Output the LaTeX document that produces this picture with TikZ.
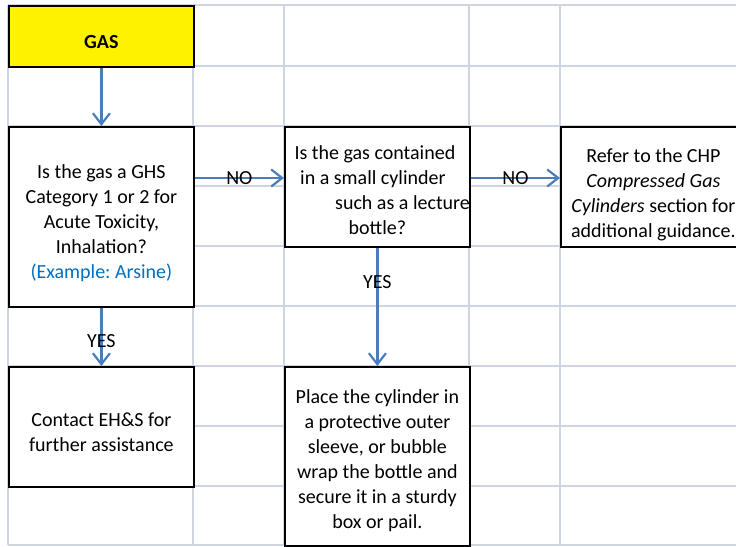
\documentclass[tikz,border=0pt]{standalone}
\usepackage{fontspec}
\setmainfont{Carlito}
\frenchspacing
\usetikzlibrary{arrows.meta}
\definecolor{gridc}{HTML}{CDD5E3}
\definecolor{arrc}{HTML}{4A7EBB}
\definecolor{exblue}{HTML}{0070C0}
% #1 = extra space above the text (twice the downward shift)
\newcommand{\boxtext}[2]{\parbox{185pt}{\frenchspacing\vspace*{#1pt}\centering #2}}
\tikzset{
  box/.style={draw=black, line width=1.8pt, fill=white, rectangle, anchor=north west,
    align=center, inner xsep=0pt, inner ysep=0pt, minimum width=185pt,
    font=\fontsize{20}{25}\selectfont},
  arr/.style={draw=arrc, line width=2.4pt, -{Straight Barb[length=11pt,width=17pt,line width=2.2pt]}},
  lbl/.style={font=\fontsize{20}{25}\selectfont, inner sep=0pt, text=black}
}
\begin{document}
\begin{tikzpicture}[x=1pt,y=-1pt]
\clip (0,0) rectangle (736,546);
\fill[white] (0,0) rectangle (736,546);
% grid
\foreach \yy in {5,66,126,186,246,306,366,426,486,545}
  \draw[gridc, line width=1.5pt] (8,\yy) -- (740,\yy);
\foreach \xx in {8,193,284,469,560}
  \draw[gridc, line width=1.5pt] (\xx,5) -- (\xx,545);
% boxes
\node[box, fill=yellow, minimum height=61pt, font=\fontsize{20}{25}\selectfont\bfseries] (gas) at (8,5) {\boxtext{11}{GAS}};
\node[box, minimum height=180pt] (q1) at (8,126) {\boxtext{12}{Is the gas a GHS\\Category 1 or 2 for\\Acute Toxicity,\\Inhalation?\\\textcolor{exblue}{(Example: Arsine)}}};
\node[box, minimum height=120pt] (q2) at (284,126) {\boxtext{6}{\hspace*{-5pt}Is the gas contained\\\hspace*{-9pt}in a small cylinder\\\hspace*{\fill}such as a lecture\\bottle?}};
\node[box, minimum height=120pt] (ref) at (560,126) {\boxtext{16}{Refer to the CHP\\\textit{Compressed Gas}\\\textit{Cylinders} section for\\additional guidance.}};
\node[box, minimum height=120pt] (contact) at (8,366) {\boxtext{10}{Contact EH\&S for\\further assistance}};
\node[box, minimum height=179pt] (place) at (284,366) {\boxtext{8}{Place the cylinder in\\a protective outer\\sleeve, or bubble\\wrap the bottle and\\secure it in a sturdy\\box or pail.}};
% connectors
\coordinate (row) at (0,178);
\draw[arr] (gas.south) -- (q1.north);
\draw[arr] (q1.east |- row) -- node[lbl, midway] {NO} (q2.west |- row);
\draw[arr] (q2.east |- row) -- node[lbl, midway] {NO} (ref.west |- row);
\draw[arr] (q2.south) -- node[lbl, pos=0.29] {YES} (place.north);
\draw[arr] (q1.south) -- node[lbl, pos=0.57] {YES} (contact.north);
\end{tikzpicture}
\end{document}
